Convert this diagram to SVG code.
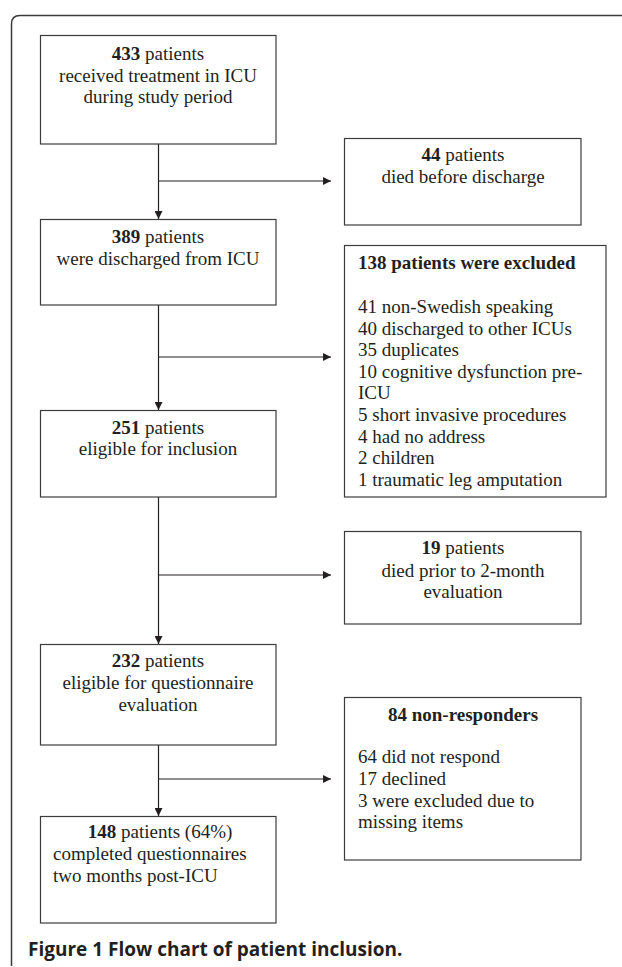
<svg xmlns="http://www.w3.org/2000/svg" width="622" height="967" viewBox="0 0 622 967">
<style>
.bg{fill:#ffffff}
.frame{fill:none;stroke:#3a3a3a;stroke-width:1.5}
.box{fill:#ffffff;stroke:#3c3c3c;stroke-width:1.2}
.t{font-family:"Liberation Serif","Times New Roman",serif;font-size:19px;fill:#231f20}
.c{text-anchor:middle}
.b{font-weight:bold}
.conn{fill:none;stroke:#231f20;stroke-width:1.2}
.cap{font-family:"Open Sans","Noto Sans",sans-serif;font-weight:bold;font-size:19px;fill:#231f20}
</style>
<defs>
<marker id="arrow" viewBox="0 0 8 8" refX="8" refY="4" markerWidth="8" markerHeight="8" orient="auto" markerUnits="userSpaceOnUse">
<path d="M0,0 L8,4 L0,8 z" fill="#231f20"/>
</marker>
</defs>
<rect class="bg" x="0" y="0" width="622" height="967"/>
<path class="frame" d="M11.5,966 L11.5,24 Q11.5,15.5 20,15.5 L622,15.5"/>

<g id="connectors">
<line class="conn" x1="158.5" y1="144" x2="158.5" y2="219" marker-end="url(#arrow)"/>
<line class="conn" x1="158.5" y1="181" x2="331" y2="181" marker-end="url(#arrow)"/>
<line class="conn" x1="158.5" y1="305" x2="158.5" y2="410" marker-end="url(#arrow)"/>
<line class="conn" x1="158.5" y1="357" x2="331" y2="357" marker-end="url(#arrow)"/>
<line class="conn" x1="158.5" y1="497" x2="158.5" y2="644" marker-end="url(#arrow)"/>
<line class="conn" x1="158.5" y1="575" x2="331" y2="575" marker-end="url(#arrow)"/>
<line class="conn" x1="158.5" y1="745" x2="158.5" y2="816" marker-end="url(#arrow)"/>
<line class="conn" x1="158.5" y1="779" x2="331" y2="779" marker-end="url(#arrow)"/>
</g>

<g id="node-433">
<rect class="box" x="40.5" y="35.5" width="235.5" height="108.5"/>
<text class="t c" x="158" y="60"><tspan class="b">433</tspan> patients</text>
<text class="t c" x="158" y="82">received treatment in ICU</text>
<text class="t c" x="158" y="103">during study period</text>
</g>

<g id="node-44">
<rect class="box" x="344.5" y="138.5" width="236.5" height="86.5"/>
<text class="t c" x="463" y="161"><tspan class="b">44</tspan> patients</text>
<text class="t c" x="463" y="183">died before discharge</text>
</g>

<g id="node-389">
<rect class="box" x="40.5" y="219.5" width="235.5" height="85.5"/>
<text class="t c" x="158" y="243"><tspan class="b">389</tspan> patients</text>
<text class="t c" x="158" y="265">were discharged from ICU</text>
</g>

<g id="node-138">
<rect class="box" x="344.5" y="245.5" width="261.5" height="251.5"/>
<text class="t b" x="358" y="269">138 patients were excluded</text>
<text class="t" x="358" y="313">41 non-Swedish speaking</text>
<text class="t" x="358" y="334.6">40 discharged to other ICUs</text>
<text class="t" x="358" y="356.2">35 duplicates</text>
<text class="t" x="358" y="377.8">10 cognitive dysfunction pre-</text>
<text class="t" x="358" y="399.4">ICU</text>
<text class="t" x="358" y="421">5 short invasive procedures</text>
<text class="t" x="358" y="442.6">4 had no address</text>
<text class="t" x="358" y="464.2">2 children</text>
<text class="t" x="358" y="485.8">1 traumatic leg amputation</text>
</g>

<g id="node-251">
<rect class="box" x="40.5" y="410.5" width="235.5" height="86.5"/>
<text class="t c" x="158" y="434"><tspan class="b">251</tspan> patients</text>
<text class="t c" x="158" y="455">eligible for inclusion</text>
</g>

<g id="node-19">
<rect class="box" x="344.5" y="531.5" width="236.5" height="92.5"/>
<text class="t c" x="463" y="554"><tspan class="b">19</tspan> patients</text>
<text class="t c" x="463" y="576.5">died prior to 2-month</text>
<text class="t c" x="463" y="598">evaluation</text>
</g>

<g id="node-232">
<rect class="box" x="40.5" y="644.5" width="235.5" height="100.5"/>
<text class="t c" x="158" y="667"><tspan class="b">232</tspan> patients</text>
<text class="t c" x="158" y="689">eligible for questionnaire</text>
<text class="t c" x="158" y="711">evaluation</text>
</g>

<g id="node-84">
<rect class="box" x="344.5" y="697.5" width="236.5" height="162.5"/>
<text class="t c b" x="463" y="721">84 non-responders</text>
<text class="t" x="358" y="763">64 did not respond</text>
<text class="t" x="358" y="785">17 declined</text>
<text class="t" x="358" y="806.5">3 were excluded due to</text>
<text class="t" x="358" y="828">missing items</text>
</g>

<g id="node-148">
<rect class="box" x="40.5" y="816.5" width="235.5" height="106.5"/>
<text class="t c" x="160" y="838"><tspan class="b">148</tspan> patients (64%)</text>
<text class="t" x="53" y="860">completed questionnaires</text>
<text class="t" x="53" y="882">two months post-ICU</text>
</g>

<text class="cap" x="28" y="956">Figure 1 Flow chart of patient inclusion.</text>
</svg>
